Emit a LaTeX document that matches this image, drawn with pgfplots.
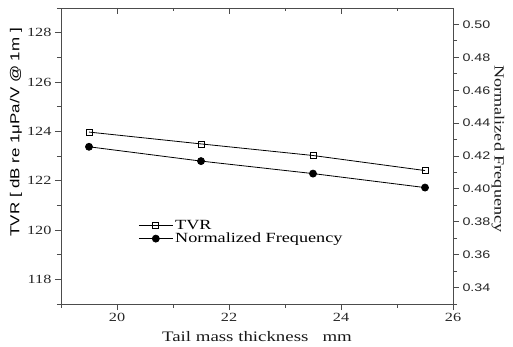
\documentclass[border=0pt]{standalone}
\usepackage{fontspec}
\setmainfont{Liberation Serif}[FakeStretch=1.3]
\setsansfont{Liberation Sans}[FakeStretch=1.3]
\usepackage{pgfplots}
\pgfplotsset{compat=1.18}
\definecolor{axgray}{gray}{0.3}

\pgfplotstableread{
x y
19.5 123.97
21.5 123.49
23.5 123.02
25.5 122.41
}\tvr
\pgfplotstableread{
x y
19.5 0.4256
21.5 0.4169
23.5 0.4093
25.5 0.4008
}\nf

\begin{document}
\begin{tikzpicture}
\pgfplotsset{
  common/.style={width=392pt,height=296pt,scale only axis,xmin=19,xmax=26,
    axis line style={axgray,line width=0.9pt},
    tick style={axgray,line width=0.8pt},
    major tick length=6pt, minor tick length=4pt,
    /pgf/number format/assume math mode=true},
}
\begin{axis}[common, name=main,
  ymin=117, ymax=129,
  xtick={20,22,24,26}, minor xtick={19,21,23,25},
  ytick={118,120,122,124,126,128}, minor ytick={117,119,121,123,125,127,129},
  xtick pos=bottom, ytick pos=left, tick align=outside,
  xticklabel style={font=\fontsize{12.5}{14}\selectfont, text=black!85},
  yticklabel style={font=\fontsize{12.5}{14}\selectfont, text=black!85},
  xlabel={Tail mass thickness\ \ \ mm},
  xlabel style={font=\fontsize{14.5}{16}\selectfont, text=black!90, anchor=center, at={(axis description cs:0.5,-0.11)}},
  ylabel={TVR [ dB re 1μPa/V @ 1m ]},
  ylabel style={font=\sffamily\fontsize{13}{15}\selectfont, anchor=center, at={(axis description cs:-0.115,0.58)}},
]
\addplot[black, line width=0.8pt, mark=square, mark size=3pt, mark options={fill=white, line width=0.8pt}] table[x=x,y=y] {\tvr};
\end{axis}

\begin{axis}[common,
  ymin=0.33, ymax=0.51,
  axis y line*=right, axis x line=none, tick align=outside,
  ytick={0.34,0.36,0.38,0.40,0.42,0.44,0.46,0.48,0.50},
  minor ytick={0.33,0.35,0.37,0.39,0.41,0.43,0.45,0.47,0.49},
  yticklabel style={font=\sffamily\fontsize{11}{13}\selectfont, text=black!85,
    /pgf/number format/.cd, fixed, fixed zerofill, precision=2},
  ylabel={Normalized Frequency},
  ylabel style={font=\fontsize{14}{16}\selectfont, text=black!90, rotate=180, anchor=center, at={(axis description cs:1.115,0.524)}},
  legend style={at={(axis description cs:0.197,0.29)}, anchor=north west, draw=none, fill=none,
    font=\fontsize{14}{16}\selectfont, row sep=-2pt, inner sep=0pt},
  legend cell align=left,
  legend image code/.code={\draw[mark repeat=2,mark phase=2] plot coordinates {(0pt,0pt) (17pt,0pt) (34pt,0pt)};},
]
\addlegendimage{black, line width=0.8pt, mark=square, mark size=3pt, mark options={fill=white, line width=0.8pt}}
\addlegendentry{TVR}
\addplot[black, line width=0.8pt, mark=*, mark size=3.5pt] table[x=x,y=y] {\nf};
\addlegendentry{Normalized Frequency}
\end{axis}

\begin{axis}[common,
  ymin=0, ymax=1,
  axis x line*=top, axis y line=none, tick align=inside,
  xtick={20,22,24,26}, minor xtick={21,23,25}, xticklabels={},
  minor tick length=3pt,
]
\end{axis}

\path[use as bounding box] ([shift={(-61pt,-43pt)}]main.south west) rectangle ([shift={(60pt,8pt)}]main.north east);
\end{tikzpicture}
\end{document}
